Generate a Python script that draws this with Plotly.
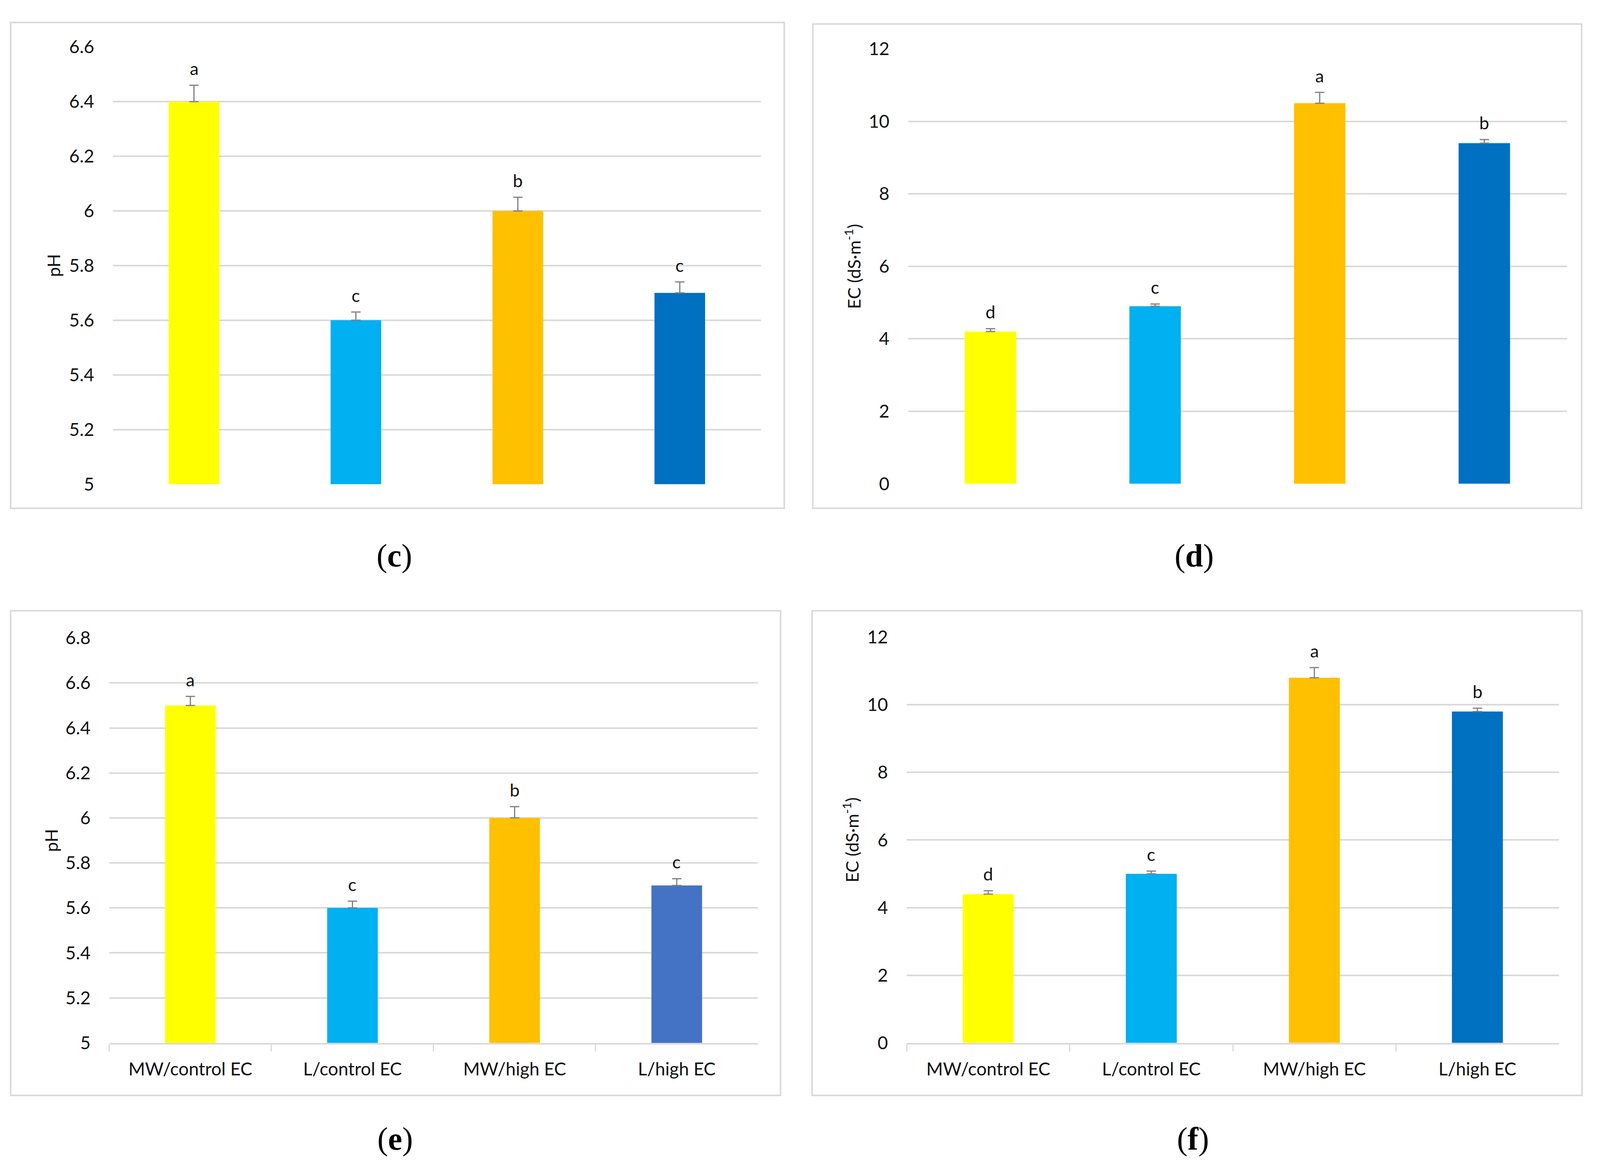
import plotly.graph_objects as go

# ---------------- data ----------------
categories = ["MW/control EC", "L/control EC", "MW/high EC", "L/high EC"]

ph_c = [6.4, 5.6, 6.0, 5.7]
ph_c_err = [0.06, 0.03, 0.05, 0.04]
ph_c_letters = ["a", "c", "b", "c"]

ec_d = [4.2, 4.9, 10.5, 9.4]
ec_d_err = [0.08, 0.06, 0.3, 0.1]
ec_d_letters = ["d", "c", "a", "b"]

ph_e = [6.5, 5.6, 6.0, 5.7]
ph_e_err = [0.04, 0.03, 0.05, 0.03]
ph_e_letters = ["a", "c", "b", "c"]

ec_f = [4.4, 5.0, 10.8, 9.8]
ec_f_err = [0.1, 0.08, 0.3, 0.1]
ec_f_letters = ["d", "c", "a", "b"]

ph_c_ticks = [5, 5.2, 5.4, 5.6, 5.8, 6, 6.2, 6.4, 6.6]
ph_c_ticktext = ["5", "5.2", "5.4", "5.6", "5.8", "6", "6.2", "6.4", "6.6"]
ph_e_ticks = [5, 5.2, 5.4, 5.6, 5.8, 6, 6.2, 6.4, 6.6, 6.8]
ph_e_ticktext = ["5", "5.2", "5.4", "5.6", "5.8", "6", "6.2", "6.4", "6.6", "6.8"]
ec_ticks = [0, 2, 4, 6, 8, 10, 12]
ec_ticktext = ["0", "2", "4", "6", "8", "10", "12"]

panel_labels = ["c", "d", "e", "f"]
ph_title = "pH"
ec_title = "EC (dS·m<sup>-1</sup>)"

# ---------------- style ----------------
REF_W, REF_H = 4362, 3008      # reference layout grid (pixels)
FIG_W, FIG_H = 4096, 3008      # size that fits the browser viewport
SX = FIG_W / REF_W
colors_main = ["#FFFF00", "#00B0F0", "#FFC000", "#0070C0"]
colors_e = ["#FFFF00", "#00B0F0", "#FFC000", "#4472C4"]
GRID = "#D9D9D9"
FONT = "Lato"
TICK_SIZE = 46
BAR_W = 0.3125


def px_x(a, b):
    return [a / REF_W, b / REF_W]


def px_y(top, bottom):
    return [1 - bottom / REF_H, 1 - top / REF_H]


panels = [
    dict(v=ph_c, e=ph_c_err, l=ph_c_letters, col=colors_main, xd=(308, 2074), yd=(93, 1233),
         rng=[5, 6.6], tv=ph_c_ticks, tt=ph_c_ticktext, title=ph_title, box=(29, 29, 2138, 1296),
         tx=146, cap=(1075, 1419), xlab=False),
    dict(v=ec_d, e=ec_d_err, l=ec_d_letters, col=colors_main, xd=(2476, 4271), yd=(98, 1232),
         rng=[0, 12], tv=ec_ticks, tt=ec_ticktext, title=ec_title, box=(2216, 33, 4312, 1296),
         tx=2325, cap=(3255, 1419), xlab=False),
    dict(v=ph_e, e=ph_e_err, l=ph_e_letters, col=colors_e, xd=(298, 2066), yd=(1634, 2690),
         rng=[5, 6.8], tv=ph_e_ticks, tt=ph_e_ticktext, title=ph_title, box=(29, 1563, 2128, 2827),
         tx=140, cap=(1077, 2940), xlab=True),
    dict(v=ec_f, e=ec_f_err, l=ec_f_letters, col=colors_main, xd=(2472, 4250), yd=(1632, 2690),
         rng=[0, 12], tv=ec_ticks, tt=ec_ticktext, title=ec_title, box=(2214, 1563, 4313, 2827),
         tx=2320, cap=(3252, 2940), xlab=True),
]

fig = go.Figure()
annotations = []
shapes = []

for i, p in enumerate(panels):
    n = "" if i == 0 else str(i + 1)
    xa, ya = "x" + n, "y" + n
    fig.add_trace(go.Bar(
        x=categories, y=p["v"], xaxis=xa, yaxis=ya,
        width=BAR_W,
        marker=dict(color=p["col"], line=dict(width=0)),
        error_y=dict(type="data", symmetric=False, array=p["e"], arrayminus=[0] * len(p["e"]),
                     color="#7F7F7F", thickness=3, width=12),
        showlegend=False, hoverinfo="x+y",
    ))
    fig.layout["xaxis" + n] = dict(
        domain=px_x(*p["xd"]), anchor=ya, type="category",
        range=[-0.5, 3.5], showgrid=False, zeroline=False,
        showticklabels=p["xlab"],
        showline=p["xlab"], linecolor=GRID, linewidth=3.5,
        ticks="outside" if p["xlab"] else "", tickson="boundaries",
        ticklen=18, tickwidth=3, tickcolor=GRID,
        ticklabelstandoff=24,
        tickfont=dict(family=FONT, size=TICK_SIZE, color="#111111"),
        fixedrange=True,
    )
    fig.layout["yaxis" + n] = dict(
        domain=px_y(*p["yd"]), anchor=xa, range=p["rng"],
        tickvals=p["tv"], ticktext=p["tt"],
        showgrid=True, gridcolor=GRID, gridwidth=3.5,
        zeroline=False, showline=False, ticks="",
        ticklabelstandoff=round(50 * SX),
        tickfont=dict(family=FONT, size=TICK_SIZE, color="#111111"),
        fixedrange=True,
    )
    for c, v, e, l in zip(categories, p["v"], p["e"], p["l"]):
        annotations.append(dict(
            x=c, y=v + e, xref=xa, yref=ya, text=l, showarrow=False,
            yanchor="bottom", yshift=14,
            font=dict(family=FONT, size=45, color="#111111"),
        ))
    y0, y1 = p["yd"]
    annotations.append(dict(
        x=p["tx"] / REF_W, y=1 - ((y0 + y1) / 2) / REF_H, xref="paper", yref="paper",
        text=p["title"], textangle=-90, showarrow=False,
        xanchor="center", yanchor="middle",
        font=dict(family=FONT, size=45, color="#111111"),
    ))
    annotations.append(dict(
        x=p["cap"][0] / REF_W, y=1 - p["cap"][1] / REF_H, xref="paper", yref="paper",
        text="(<b>" + panel_labels[i] + "</b>)", showarrow=False,
        xanchor="center", yanchor="middle",
        font=dict(family="Liberation Serif", size=82, color="#000000"),
    ))
    bx0, by0, bx1, by1 = p["box"]
    shapes.append(dict(
        type="rect", xref="paper", yref="paper",
        x0=bx0 / REF_W, x1=bx1 / REF_W, y0=1 - by1 / REF_H, y1=1 - by0 / REF_H,
        line=dict(color=GRID, width=4), fillcolor="rgba(0,0,0,0)", layer="below",
    ))

fig.update_layout(
    width=FIG_W, height=FIG_H,
    margin=dict(l=0, r=0, t=0, b=0),
    paper_bgcolor="white", plot_bgcolor="white",
    annotations=annotations, shapes=shapes,
    showlegend=False,
)

fig.write_html("out.html", config={"displayModeBar": False},
               post_script="document.body.style.margin='0';")
